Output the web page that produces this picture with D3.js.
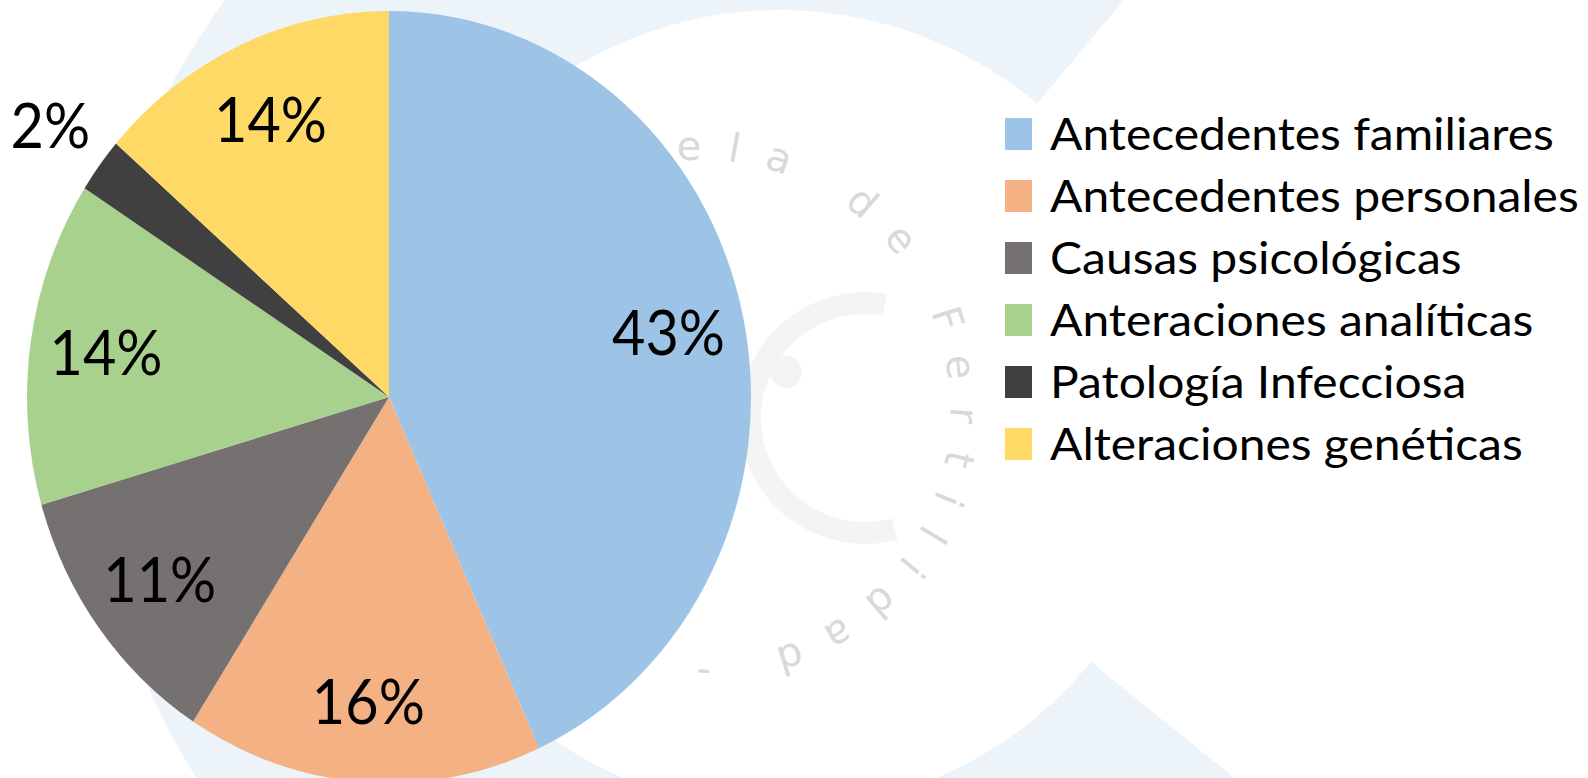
<!DOCTYPE html>
<html>
<head>
<meta charset="utf-8">
<script src="https://cdn.jsdelivr.net/npm/d3@7"></script>
<style>
  html, body { margin: 0; padding: 0; background: #fff; }
  svg { display: block; }
</style>
</head>
<body>
<div id="chart"></div>
<script>

// --------------------------------------
//  Data (shares in %)
// --------------------------------------

const categories = ["Antecedentes familiares", "Antecedentes personales", "Causas psicológicas",
  "Anteraciones analíticas", "Patología Infecciosa", "Alteraciones genéticas"];
const shares = [43.2, 15.9, 11.4, 13.6, 2.3, 13.6];
const colors = ["#9dc3e6", "#f4b183", "#767171", "#a9d18e", "#404040", "#ffd966"];
const watermarkText = "ela de Fertilidad -";

// --------------------------------------
//  Canvas
// --------------------------------------

const width = 1588;
const height = 778;
const cx = 389, cy = 397;      // pie centre
const rx = 362, ry = 386;      // pie is slightly squeezed horizontally
const deg = Math.PI / 180;

const svg = d3.select("#chart")
  .append("svg")
    .attr("width", width)
    .attr("height", height);

// --------------------------------------
//  Watermark (faint logo behind the chart)
// --------------------------------------

const bg = svg.append("g");

bg.append("path")
  .attr("transform", "translate(780,410)")
  .attr("d", d3.arc()({innerRadius: 400, outerRadius: 690, startAngle: 129 * deg, endAngle: 400 * deg}))
  .attr("fill", "#ecf4fa");

bg.append("path")
  .attr("transform", "translate(865,418)")
  .attr("d", d3.arc()({innerRadius: 104, outerRadius: 126, startAngle: 165 * deg, endAngle: 370 * deg}))
  .attr("fill", "#f4f4f4");

bg.append("circle")
  .attr("cx", 786).attr("cy", 372).attr("r", 16)
  .attr("fill", "#f4f4f4");

const ring = d3.path();
const a0 = -5.4 * deg - Math.PI / 2;
ring.moveTo(700 + 250 * Math.cos(a0), 410 + 250 * Math.sin(a0));
ring.arc(700, 410, 250, a0, a0 + 2 * Math.PI - 0.01, false);

bg.append("path")
  .attr("id", "wm-ring")
  .attr("d", ring.toString())
  .attr("fill", "none");

bg.append("text")
  .attr("font-family", "DejaVu Sans")
  .attr("font-size", 40)
  .attr("letter-spacing", 25.7)
  .attr("fill", "#d9d9d9")
  .append("textPath")
    .attr("href", "#wm-ring")
    .text(watermarkText);

// --------------------------------------
//  Pie
// --------------------------------------

const pie = d3.pie().sort(null).value(d => d.value);
const data = categories.map((c, i) => ({name: c, value: shares[i], color: colors[i]}));
const arcs = pie(data);

const arc = d3.arc().innerRadius(0).outerRadius(ry);
const labelArcIn = d3.arc().innerRadius(ry * 0.79).outerRadius(ry * 0.79);
const labelArcOut = d3.arc().innerRadius(ry * 1.17).outerRadius(ry * 1.17);

const pieG = svg.append("g")
  .attr("transform", `translate(${cx},${cy}) scale(${rx / ry},1)`);

pieG.selectAll(".slice")
  .data(arcs)
  .join("path")
    .attr("class", "slice")
    .attr("d", arc)
    .attr("fill", d => d.data.color);

// labels (positions computed in pie space, then mapped to the squeezed ellipse)
const labelSize = 62.5;
const labels = svg.append("g")
  .attr("font-family", "Lato, 'Open Sans', sans-serif")
  .attr("font-size", labelSize)
  .attr("fill", "#000");

const labelText = labels.selectAll("text")
  .data(arcs)
  .join("text")
    .attr("text-anchor", "middle")
    .text(d => Math.round(d.data.value) + "%");

// fit label width to the reference ("43%" is ~113px wide)
const kLab = 113 / labelText.node().getComputedTextLength();
labelText.attr("transform", d => {
  const c = (d.data.value < 5 ? labelArcOut : labelArcIn).centroid(d);
  const x = cx + c[0] * rx / ry;
  const y = cy + c[1] + labelSize * 0.358;
  return `translate(${x},${y}) scale(${kLab},1)`;
});

// --------------------------------------
//  Legend
// --------------------------------------

const legendSize = 44.5;
const legend = svg.append("g");

const rows = legend.selectAll("g")
  .data(data)
  .join("g")
    .attr("transform", (d, i) => `translate(0,${150 + i * 62})`);

rows.append("rect")
  .attr("x", 1005)
  .attr("y", -32)
  .attr("width", 27)
  .attr("height", 32)
  .attr("fill", d => d.color);

const legendText = rows.append("text")
  .attr("font-family", "Lato, 'Open Sans', sans-serif")
  .attr("font-size", legendSize)
  .attr("fill", "#000")
  .text(d => d.name);

// fit to the reference: "Antecedentes familiares" spans ~504px
const kLeg = 504 / legendText.node().getComputedTextLength();
legendText.attr("transform", `translate(1050,0) scale(${kLeg},1)`);

</script>
</body>
</html>
